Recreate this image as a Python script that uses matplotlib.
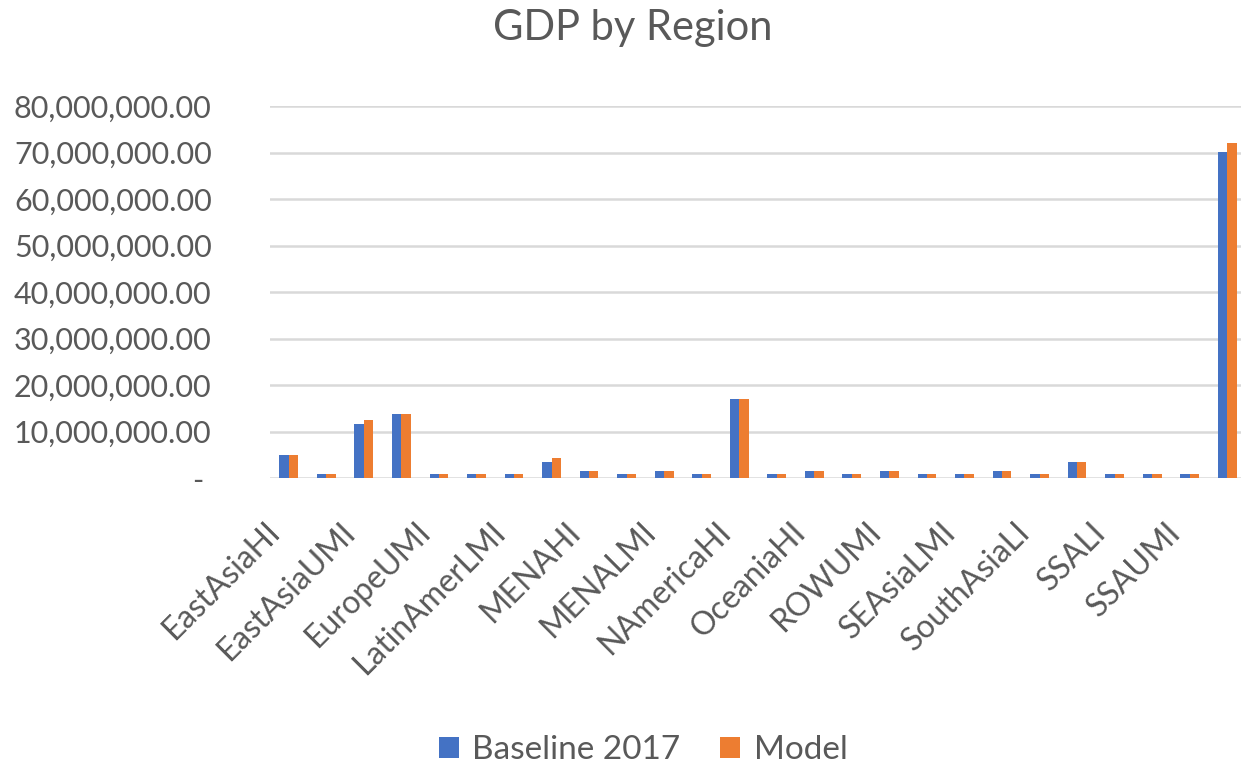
import matplotlib
matplotlib.use("Agg")
import matplotlib.pyplot as plt
import matplotlib.transforms as mtransforms
import numpy as np
from matplotlib.ticker import FuncFormatter, MultipleLocator

# Regional GDP, baseline year versus model run
regions = [
    "EastAsiaHI", "EastAsiaLMI", "EastAsiaUMI", "EuropeHI", "EuropeUMI",
    "LatinAmerHI", "LatinAmerLMI", "LatinAmerUMI", "MENAHI", "MENALI",
    "MENALMI", "MENAUMI", "NAmericaHI", "NAmericaUMI", "OceaniaHI",
    "OceaniaLMI", "ROWUMI", "SEAsiaHI", "SEAsiaLMI", "SEAsiaUMI",
    "SouthAsiaLI", "SouthAsiaLMI", "SSALI", "SSALMI", "SSAUMI", "World",
]
baseline_2017 = [
    4.95e6, 0.85e6, 11.55e6, 13.7e6, 0.85e6,
    0.85e6, 0.85e6, 3.45e6, 1.55e6, 0.85e6,
    1.55e6, 0.85e6, 17.0e6, 0.85e6, 1.55e6,
    0.85e6, 1.55e6, 0.85e6, 0.85e6, 1.55e6,
    0.85e6, 3.5e6, 0.85e6, 0.85e6, 0.85e6, 70.1e6,
]
model = [
    4.95e6, 0.85e6, 12.4e6, 13.7e6, 0.85e6,
    0.85e6, 0.85e6, 4.3e6, 1.55e6, 0.85e6,
    1.55e6, 0.85e6, 17.05e6, 0.85e6, 1.55e6,
    0.85e6, 1.55e6, 0.85e6, 0.85e6, 1.55e6,
    0.85e6, 3.5e6, 0.85e6, 0.85e6, 0.85e6, 72.1e6,
]
series_names = ["Baseline 2017", "Model"]

BLUE = "#4472C4"
ORANGE = "#ED7D31"
TEXT = "#595959"
GRID = "#D9D9D9"

plt.rcParams["font.family"] = ["Lato", "DejaVu Sans"]

W, H = 1241, 765
fig = plt.figure(figsize=(W / 100, H / 100), dpi=100)
ax = fig.add_axes([270 / W, 1 - 478 / H, 976 / W, (478 - 106) / H])

x = np.arange(len(regions))
bw = 0.25
ax.bar(x - bw / 2, baseline_2017, width=bw, color=BLUE, label=series_names[0], zorder=3)
ax.bar(x + bw / 2, model, width=bw, color=ORANGE, label=series_names[1], zorder=3)

ax.set_xlim(-0.5, len(regions) - 0.5)
ax.set_ylim(0, 80e6)
ax.yaxis.set_major_locator(MultipleLocator(10e6))


def fmt(v, _pos):
    if abs(v) < 1:
        return "- "
    return f"{v:,.2f}"


ax.yaxis.set_major_formatter(FuncFormatter(fmt))
ax.grid(axis="y", color=GRID, linewidth=1.8, zorder=0)
ax.set_axisbelow(True)
for s in ax.spines.values():
    s.set_visible(False)

ax.tick_params(axis="y", length=0, pad=42, labelsize=22, labelcolor=TEXT)
ax.tick_params(axis="x", length=0, pad=28, labelsize=23, labelcolor=TEXT)

ax.set_xticks(x[::2])
ax.set_xticklabels([regions[i] for i in x[::2]], rotation=45, ha="right",
                   rotation_mode="anchor")
# nudge the slanted category labels a little to the left of their ticks
shift = mtransforms.ScaledTranslation(-24 / 100, 0, fig.dpi_scale_trans)
for lbl in ax.get_xticklabels():
    lbl.set_transform(lbl.get_transform() + shift)

fig.text(633 / W, 1 - 28 / H, "GDP by Region", ha="center", va="center",
         fontsize=30, color=TEXT)

leg = fig.legend(loc="center", bbox_to_anchor=(643 / W, 1 - 750 / H), ncol=2,
                 frameon=False, fontsize=24, handlelength=0.6, handleheight=0.6,
                 handletextpad=0.4, columnspacing=1.2, labelcolor=TEXT)

fig.savefig("out.png", dpi=100, facecolor="white")
